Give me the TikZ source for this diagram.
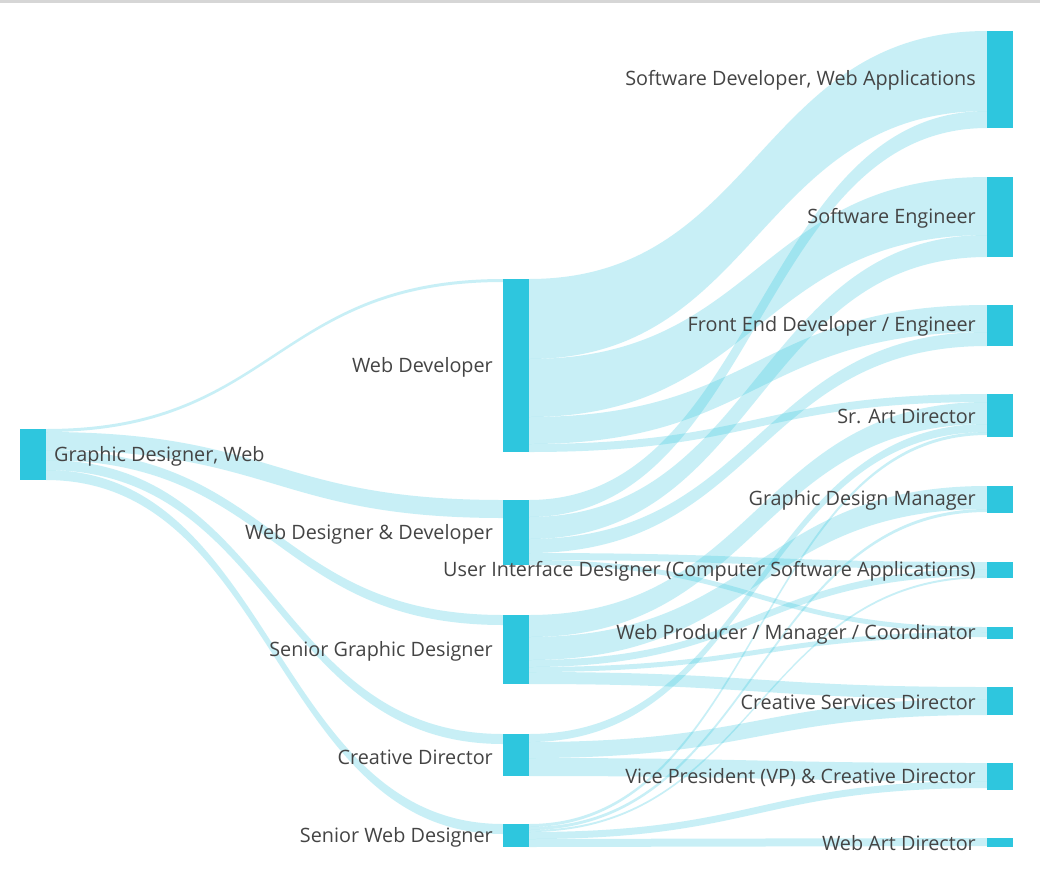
\documentclass[tikz,border=0pt]{standalone}
\usepackage{fontspec}
\setmainfont{Open Sans}
\usetikzlibrary{calc}
\pgfdeclarelayer{bg}
\pgfsetlayers{bg,main}
\definecolor{nodecol}{RGB}{46,198,222}
\definecolor{linkcol}{RGB}{43,197,222}
\definecolor{txtcol}{RGB}{68,68,68}
\definecolor{topbar}{RGB}{214,214,214}
\tikzset{
  sknode/.style={fill=nodecol, draw=none, inner sep=0pt, outer sep=0pt, minimum width=26pt, anchor=north west},
  linkfill/.style={fill=linkcol, fill opacity=0.26},
  lbl/.style={text=txtcol, font=\fontsize{19.8}{22}\selectfont, inner sep=0pt},
}
% \sklink{src}{src offset}{tgt}{tgt offset}{width}
\newcommand{\sklink}[5]{%
  \begin{pgfonlayer}{bg}
  \coordinate (A) at ($(#1.north east)+(0,#2)$);
  \coordinate (B) at ($(#3.north west)+(0,#4)$);
  \coordinate (C) at ($(A)+(0,#5)$);
  \coordinate (D) at ($(B)+(0,#5)$);
  \coordinate (M) at ($(A)!0.5!(B)$);
  \fill[linkfill] (A) .. controls (M|-A) and (M|-B) .. (B) -- (D)
     .. controls (M|-D) and (M|-C) .. (C) -- cycle;
  \end{pgfonlayer}}
\begin{document}
\begin{tikzpicture}[x=1pt,y=-1pt]
\begin{pgfonlayer}{bg}
\fill[white] (0,0) rectangle (1040,873);
\fill[topbar] (0,0) rectangle (1040,3);
\end{pgfonlayer}
\useasboundingbox (0,0) rectangle (1040,873);
% left column
\node[sknode, minimum height=51pt] (gdw) at (20,429) {};
% middle column
\node[sknode, minimum height=173pt] (wd) at (503,279) {};
\node[sknode, minimum height=65pt] (wdd) at (503,500) {};
\node[sknode, minimum height=69pt] (sgd) at (503,615) {};
\node[sknode, minimum height=42pt] (cd) at (503,734) {};
\node[sknode, minimum height=23pt] (swd) at (503,824) {};
% right column
\node[sknode, minimum height=97pt] (sdwa) at (987,31) {};
\node[sknode, minimum height=80pt] (se) at (987,177) {};
\node[sknode, minimum height=41pt] (fe) at (987,305) {};
\node[sknode, minimum height=43pt] (srad) at (987,394) {};
\node[sknode, minimum height=27pt] (gdm) at (987,486) {};
\node[sknode, minimum height=16pt] (ui) at (987,562) {};
\node[sknode, minimum height=12pt] (wp) at (987,627) {};
\node[sknode, minimum height=28pt] (csd) at (987,687) {};
\node[sknode, minimum height=27pt] (vp) at (987,763) {};
\node[sknode, minimum height=9pt] (wad) at (987,838) {};
% links: left -> middle
\sklink{gdw}{0}{wd}{0}{3}
\sklink{gdw}{3}{wdd}{0}{18}
\sklink{gdw}{21}{sgd}{0}{10}
\sklink{gdw}{31}{cd}{0}{10}
\sklink{gdw}{41}{swd}{0}{10}
% Web Developer
\sklink{wd}{0}{sdwa}{0}{80}
\sklink{wd}{80}{se}{0}{58}
\sklink{wd}{138}{fe}{0}{27}
\sklink{wd}{165}{srad}{0}{8}
% Web Designer & Developer
\sklink{wdd}{0}{sdwa}{80}{17}
\sklink{wdd}{17}{se}{58}{22}
\sklink{wdd}{39}{fe}{27}{14}
\sklink{wdd}{53}{ui}{0}{7}
\sklink{wdd}{60}{wp}{0}{5}
% Senior Graphic Designer
\sklink{sgd}{0}{srad}{8}{22}
\sklink{sgd}{22}{gdm}{0}{23}
\sklink{sgd}{45}{ui}{7}{7}
\sklink{sgd}{52}{wp}{5}{5}
\sklink{sgd}{57}{csd}{0}{12}
% Creative Director
\sklink{cd}{0}{srad}{30}{8}
\sklink{cd}{8}{csd}{12}{16}
\sklink{cd}{24}{vp}{0}{18}
% Senior Web Designer
\sklink{swd}{0}{srad}{38}{3}
\sklink{swd}{3}{gdm}{23}{3}
\sklink{swd}{6}{ui}{14}{2}
\sklink{swd}{8}{vp}{18}{7}
\sklink{swd}{15}{wad}{0}{8}
% labels
\node[lbl, anchor=west] (lgdw) at ($(gdw.east)+(8,2)$) {Graphic Designer, Web};
\node[lbl, anchor=east] (lwd) at ($(wd.west)+(-10,2)$) {Web Developer};
\node[lbl, anchor=east] (lwdd) at ($(wdd.west)+(-10,2)$) {Web Designer \& Developer};
\node[lbl, anchor=east] (lsgd) at ($(sgd.west)+(-10,2)$) {Senior Graphic Designer};
\node[lbl, anchor=east] (lcd) at ($(cd.west)+(-10,2)$) {Creative Director};
\node[lbl, anchor=east] (lswd) at ($(swd.west)+(-10,2)$) {Senior Web Designer};
\node[lbl, anchor=east] (lsdwa) at ($(sdwa.west)+(-11,1)$) {Software Developer, Web Applications};
\node[lbl, anchor=east] (lse) at ($(se.west)+(-11,1)$) {Software Engineer};
\node[lbl, anchor=east] (lfe) at ($(fe.west)+(-11,1)$) {Front End Developer / Engineer};
\node[lbl, anchor=east] (lsrad) at ($(srad.west)+(-11,1)$) {Sr. Art Director};
\node[lbl, anchor=east] (lgdm) at ($(gdm.west)+(-11,1)$) {Graphic Design Manager};
\node[lbl, anchor=east] (lui) at ($(ui.west)+(-11,1)$) {User Interface Designer (Computer Software Applications)};
\node[lbl, anchor=east] (lwp) at ($(wp.west)+(-11,1)$) {Web Producer / Manager / Coordinator};
\node[lbl, anchor=east] (lcsd) at ($(csd.west)+(-11,1)$) {Creative Services Director};
\node[lbl, anchor=east] (lvp) at ($(vp.west)+(-11,1)$) {Vice President (VP) \& Creative Director};
\node[lbl, anchor=east] (lwad) at ($(wad.west)+(-11,1)$) {Web Art Director};
\end{tikzpicture}
\end{document}
